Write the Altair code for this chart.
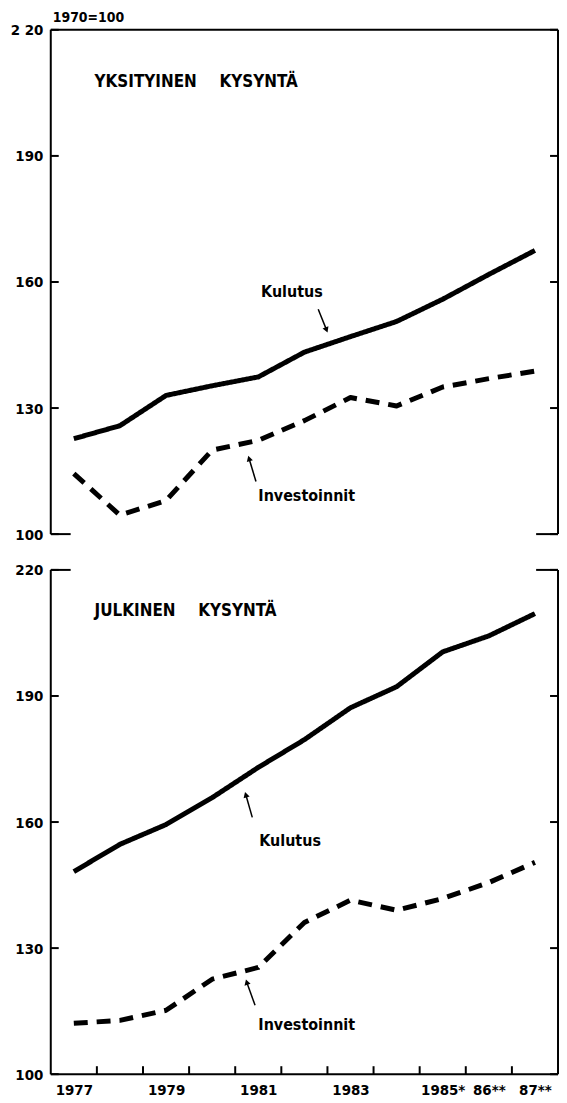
import altair as alt
import pandas as pd

# ---------------- data ----------------
years = list(range(1977, 1988))
x_label_years = [1977, 1979, 1981, 1983, 1985, 1986, 1987]
x_label_texts = ["1977", "1979", "1981", "1983", "1985*", "86**", "87**"]
x_tick_bounds = [1977.5, 1978.5, 1979.5, 1980.5, 1981.5, 1982.5, 1983.5, 1984.5, 1985.5, 1986.5]
y_ticks = [100, 130, 160, 190, 220]

# Yksityinen kysyntä (private demand), 1970=100
priv_kulutus = [122.7, 125.8, 133.0, 135.3, 137.4, 143.3, 147.0, 150.6, 155.9, 161.8, 167.5]
priv_investoinnit = [114.4, 104.5, 108.0, 120.0, 122.3, 127.0, 132.5, 130.5, 135.0, 137.0, 138.8]
# Julkinen kysyntä (public demand), 1970=100
pub_kulutus = [148.2, 154.7, 159.4, 165.8, 173.0, 179.6, 187.2, 192.2, 200.5, 204.3, 209.6]
pub_investoinnit = [112.1, 112.8, 115.2, 122.6, 125.4, 136.1, 141.4, 139.0, 141.8, 145.6, 150.4]

series_names = ["Kulutus", "Investoinnit"]
headings = ["YKSITYINEN\u2003\u2002KYSYNTÄ", "JULKINEN\u2003\u2002KYSYNTÄ"]
base_note = "1970=100"

# annotations: (text, year, value)
priv_notes = [("Kulutus", 1981.73, 157.7), ("Investoinnit", 1982.05, 109.0)]
pub_notes = [("Kulutus", 1981.69, 155.4), ("Investoinnit", 1982.05, 111.6)]
heading_pos = [(1977.45, 207.5), (1977.45, 210.3)]
# arrows: (x_from, y_from, x_to, y_to, head angle)
priv_arrows = [(1982.30, 153.5, 1982.48, 148.6, 158), (1980.95, 112.5, 1980.80, 118.0, 343)]
pub_arrows = [(1980.87, 161.1, 1980.73, 166.5, 343), (1980.93, 116.4, 1980.75, 121.9, 343)]

# ---------------- style ----------------
FONT = "Liberation Sans Narrow, DejaVu Sans Condensed, Roboto Condensed, Arial Narrow, Liberation Sans, sans-serif"
W = 510
H = 507
TICK = 8

x_scale = alt.Scale(domain=[1976.5, 1987.5], nice=False, zero=False)
y_scale = alt.Scale(domain=[100, 220], nice=False, zero=False)

label_expr_x = "".join(
    f"datum.value == {y} ? '{t}' : " for y, t in zip(x_label_years, x_label_texts)
) + "datum.label"


def panel(kulutus, investoinnit, heading, hpos, notes, arrows, bottom, top_label):
    df = pd.DataFrame(
        {
            "year": years * 2,
            "value": kulutus + investoinnit,
            "series": [series_names[0]] * len(years) + [series_names[1]] * len(years),
        }
    )
    if bottom:
        x_axis = alt.Axis(
            values=x_label_years,
            format="d",
            labelExpr=label_expr_x,
            ticks=False,
            domain=False,
            grid=False,
            title=None,
            labelFont=FONT,
            labelFontSize=15,
            labelFontWeight="bold",
            labelColor="black",
            labelPadding=8,
        )
    else:
        x_axis = None
    y_axis = alt.Axis(
        values=y_ticks,
        ticks=False,
        domain=False,
        grid=False,
        title=None,
        labelFont=FONT,
        labelFontSize=15,
        labelFontWeight="bold",
        labelColor="black",
        labelPadding=8,
        labelExpr=top_label,
    )
    lines = (
        alt.Chart(df)
        .mark_line(color="black", strokeWidth=5, strokeJoin="round")
        .encode(
            x=alt.X("year:Q", scale=x_scale, axis=x_axis),
            y=alt.Y("value:Q", scale=y_scale, axis=y_axis),
            strokeDash=alt.StrokeDash(
                "series:N",
                scale=alt.Scale(domain=series_names, range=[[1, 0], [14, 9]]),
                legend=None,
            ),
            detail="series:N",
        )
    )

    one = pd.DataFrame({"k": [0]})
    rule_style = dict(color="black", strokeWidth=2)
    frame = [
        alt.Chart(one).mark_rule(**rule_style).encode(x=alt.value(0), y=alt.value(0), y2=alt.value(H)),
        alt.Chart(one).mark_rule(**rule_style).encode(x=alt.value(W), y=alt.value(0), y2=alt.value(H)),
    ]
    if bottom:
        frame += [
            alt.Chart(one).mark_rule(**rule_style).encode(x=alt.value(0), x2=alt.value(W), y=alt.value(H)),
            alt.Chart(one).mark_rule(**rule_style).encode(x=alt.value(0), x2=alt.value(20), y=alt.value(0)),
            alt.Chart(one).mark_rule(**rule_style).encode(x=alt.value(W - 22), x2=alt.value(W), y=alt.value(0)),
        ]
        xt = pd.DataFrame({"b": x_tick_bounds})
        frame.append(
            alt.Chart(xt)
            .mark_rule(**rule_style)
            .encode(x=alt.X("b:Q", scale=x_scale), y=alt.value(H), y2=alt.value(H - TICK))
        )
    else:
        frame += [
            alt.Chart(one).mark_rule(**rule_style).encode(x=alt.value(0), x2=alt.value(W), y=alt.value(0)),
            alt.Chart(one).mark_rule(**rule_style).encode(x=alt.value(0), x2=alt.value(20), y=alt.value(H)),
            alt.Chart(one).mark_rule(**rule_style).encode(x=alt.value(W - 22), x2=alt.value(W), y=alt.value(H)),
        ]
    yt = pd.DataFrame({"v": y_ticks})
    frame += [
        alt.Chart(yt).mark_rule(**rule_style).encode(
            y=alt.Y("v:Q", scale=y_scale), x=alt.value(0), x2=alt.value(TICK)
        ),
        alt.Chart(yt).mark_rule(**rule_style).encode(
            y=alt.Y("v:Q", scale=y_scale), x=alt.value(W - TICK), x2=alt.value(W)
        ),
    ]

    head_df = pd.DataFrame({"t": [heading], "x": [hpos[0]], "y": [hpos[1]]})
    head = (
        alt.Chart(head_df)
        .mark_text(font=FONT, fontSize=17, fontWeight="bold", align="left", baseline="middle", color="black")
        .encode(x=alt.X("x:Q", scale=x_scale), y=alt.Y("y:Q", scale=y_scale), text="t:N")
    )

    note_df = pd.DataFrame(notes, columns=["t", "x", "y"])
    note = (
        alt.Chart(note_df)
        .mark_text(font=FONT, fontSize=16, fontWeight="bold", align="center", baseline="middle", color="black")
        .encode(x=alt.X("x:Q", scale=x_scale), y=alt.Y("y:Q", scale=y_scale), text="t:N")
    )

    arr_df = pd.DataFrame(arrows, columns=["x1", "y1", "x2", "y2", "ang"])
    shafts = (
        alt.Chart(arr_df)
        .mark_rule(color="black", strokeWidth=1.5)
        .encode(
            x=alt.X("x1:Q", scale=x_scale),
            y=alt.Y("y1:Q", scale=y_scale),
            x2="x2:Q",
            y2="y2:Q",
        )
    )
    heads = (
        alt.Chart(arr_df)
        .mark_point(shape="triangle-up", filled=True, color="black", size=40, opacity=1)
        .encode(
            x=alt.X("x2:Q", scale=x_scale),
            y=alt.Y("y2:Q", scale=y_scale),
            angle=alt.Angle("ang:Q", scale=None),
        )
    )

    layers = [lines] + frame + [head, note, shafts, heads]
    if top_label != "datum.label":
        tdf = pd.DataFrame({"t": [base_note]})
        layers.append(
            alt.Chart(tdf)
            .mark_text(font=FONT, fontSize=14, fontWeight="bold", align="left", baseline="alphabetic", color="black")
            .encode(x=alt.value(2), y=alt.value(-8), text="t:N")
        )
    return alt.layer(*layers).properties(width=W, height=H)


top = panel(
    priv_kulutus, priv_investoinnit, headings[0], heading_pos[0], priv_notes, priv_arrows,
    bottom=False, top_label="datum.value == 220 ? '2 20' : datum.label",
)
bottom = panel(
    pub_kulutus, pub_investoinnit, headings[1], heading_pos[1], pub_notes, pub_arrows,
    bottom=True, top_label="datum.label",
)

chart = (
    alt.vconcat(top, bottom, spacing=21)
    .properties(padding={"left": 2, "top": 0, "right": 0, "bottom": 0}, background="white")
    .configure_view(stroke=None)
)

chart.save("out.html", embed_options={"renderer": "svg", "actions": False})
